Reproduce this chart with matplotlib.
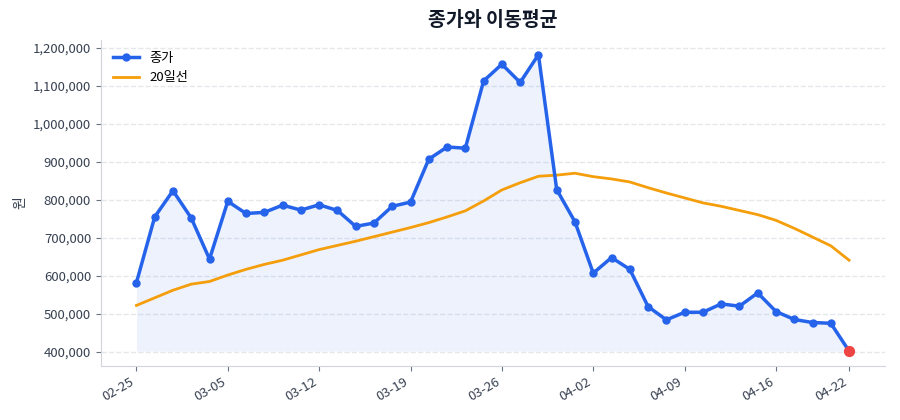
import matplotlib
matplotlib.use("Agg")
import matplotlib.pyplot as plt
from matplotlib.ticker import FuncFormatter

plt.rcParams['font.family'] = ['Noto Sans CJK KR', 'DejaVu Sans']

dates = ["02-25", "02-26", "02-27", "02-28", "03-04", "03-05", "03-06", "03-07", "03-10", "03-11",
         "03-12", "03-13", "03-14", "03-17", "03-18", "03-19", "03-20", "03-21", "03-24", "03-25",
         "03-26", "03-27", "03-28", "03-31", "04-01", "04-02", "04-03", "04-04", "04-07", "04-08",
         "04-09", "04-10", "04-11", "04-14", "04-15", "04-16", "04-17", "04-18", "04-21", "04-22"]

close = [582000, 755000, 824000, 752000, 644000, 796000, 764000, 767000, 786000, 773000,
         787000, 772000, 730000, 739000, 783000, 794000, 907000, 939000, 936000, 1113000,
         1157000, 1109000, 1182000, 827000, 742000, 607000, 648000, 617000, 519000, 484000,
         504000, 504000, 526000, 520000, 555000, 506000, 485000, 477000, 475000, 402000]

ma20 = [522000, 542000, 562000, 578000, 585000, 602000, 617000, 630000, 641000, 655000,
        669000, 680000, 691000, 703000, 715000, 727000, 740000, 755000, 771000, 797000,
        826000, 845000, 862000, 865000, 870000, 861000, 855000, 847000, 832000, 818000,
        805000, 792000, 783000, 772000, 761000, 746000, 725000, 702000, 679000, 641000]

tick_idx = [0, 5, 10, 15, 20, 25, 30, 35, 39]

blue = "#2563eb"
orange = "#f59e0b"
red = "#ef4444"

fig = plt.figure(figsize=(9, 4.2), dpi=100)
ax = fig.add_subplot(111)
fig.subplots_adjust(left=0.112, right=0.983, top=0.905, bottom=0.129)

x = list(range(len(close)))
ax.fill_between(x, close, min(close), color=blue, alpha=0.08, linewidth=0)
ax.plot(x, close, color=blue, linewidth=2.5, marker='o', markersize=5, label="종가", zorder=3)
ax.plot(x, ma20, color=orange, linewidth=2, label="20일선", zorder=2)
ax.scatter([x[-1]], [close[-1]], color=red, s=50, zorder=4)

ax.set_xticks(tick_idx)
ax.set_xticklabels([dates[i] for i in tick_idx], rotation=30, ha='right', rotation_mode='default')
ax.yaxis.set_major_formatter(FuncFormatter(lambda v, p: f"{int(v):,}"))
ax.set_yticks([400000, 500000, 600000, 700000, 800000, 900000, 1000000, 1100000, 1200000])

ax.grid(axis='y', linestyle='--', color='#e5e7eb', linewidth=1)
ax.set_axisbelow(True)
for s in ['top', 'right']:
    ax.spines[s].set_visible(False)
for s in ['left', 'bottom']:
    ax.spines[s].set_color('#d1d5db')
ax.tick_params(colors='#374151', labelsize=9.5)
ax.tick_params(axis='both', color='#6b7280')

ax.set_ylabel("원", color='#374151', fontsize=10)
ax.set_title("종가와 이동평균", fontsize=14, fontweight='bold', color='#111827', pad=10)
ax.legend(loc='upper left', frameon=False, fontsize=9.5)

fig.savefig("out.png", dpi=100)
